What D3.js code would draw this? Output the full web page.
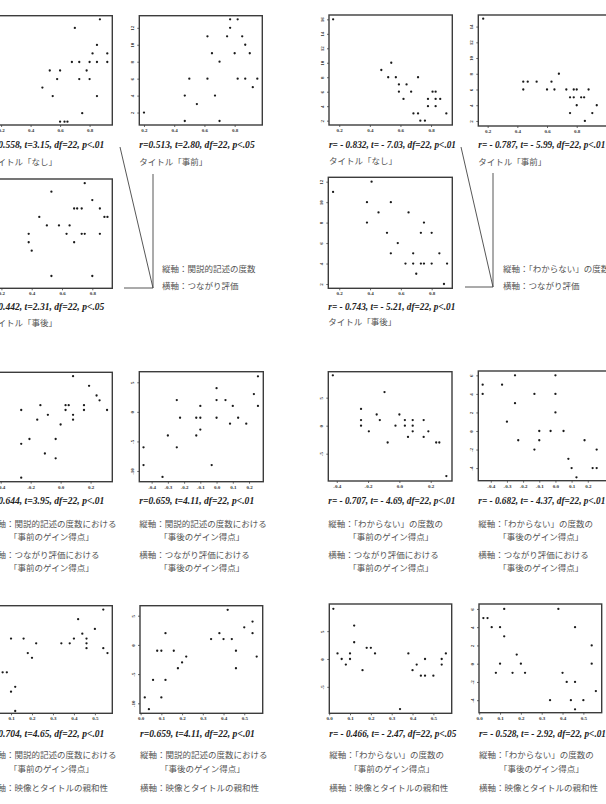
<!DOCTYPE html>
<html>
<head>
<meta charset="utf-8">
<script src="https://cdn.jsdelivr.net/npm/d3@7"></script>
<style>
  body { margin: 0; background: #fff; }
  .stat { font-family: "Liberation Serif", "Times New Roman", serif; font-weight: bold; font-style: italic; font-size: 9.6px; fill: #222; }
  .cap { font-family: "Noto Sans CJK JP", sans-serif; font-size: 8.5px; fill: #555; }
  .tk text { font-family: "Liberation Serif", serif; font-weight: bold; font-size: 5px; fill: #333; }
  .tk line { stroke: #444; stroke-width: 0.8; }
</style>
</head>
<body>
<div id="chart"></div>
<script>
// つながり評価 × 関説的記述の度数（タイトル なし / 事前 / 事後）
var kanNashi = [[0.87,13],[0.70,12],[0.85,10],[0.82,9],[0.92,9],[0.68,8],[0.73,8],[0.80,8],[0.85,8],[0.92,8],[0.53,7],[0.60,7],[0.78,7],[0.58,6],[0.73,6],[0.80,6],[0.48,5],[0.55,4],[0.85,4],[0.75,2],[0.60,1],[0.63,1],[0.65,1]];
var kanJizen = [[0.77,13],[0.82,13],[0.77,12],[0.62,11],[0.75,11],[0.85,11],[0.87,10],[0.65,9],[0.80,9],[0.90,9],[0.70,8],[0.50,6],[0.62,6],[0.82,6],[0.87,6],[0.95,6],[0.92,5],[0.47,4],[0.67,4],[0.55,3],[0.20,2],[0.47,1],[0.70,1]];
var kanJigo = [[0.75,12],[0.53,11],[0.80,10],[0.68,9],[0.70,9],[0.73,9],[0.85,9],[0.45,8],[0.88,8],[0.90,8],[0.50,7],[0.58,7],[0.65,7],[0.63,6],[0.73,6],[0.75,6],[0.85,6],[0.38,6],[0.38,5],[0.68,5],[0.40,4],[0.53,1],[0.80,1]];
// つながり評価 × 「わからない」の度数
var wakaNashi = [[0.16,16],[0.54,10],[0.475,9],[0.52,8],[0.57,8],[0.715,8],[0.59,7],[0.64,7],[0.59,6],[0.67,6],[0.81,6],[0.83,6],[0.62,5],[0.78,5],[0.83,5],[0.86,5],[0.78,4],[0.83,4],[0.685,3],[0.715,3],[0.90,3],[0.73,2],[0.76,2]];
var wakaJizen = [[0.17,15],[0.68,8],[0.44,7],[0.47,7],[0.53,7],[0.63,7],[0.44,6],[0.60,6],[0.65,6],[0.73,6],[0.78,6],[0.80,6],[0.88,6],[0.755,5],[0.78,5],[0.83,5],[0.85,5],[0.80,4],[0.935,4],[0.755,3],[0.905,3],[0.855,2]];
var wakaJigo = [[0.41,12],[0.16,11],[0.38,10],[0.535,10],[0.455,9],[0.65,9],[0.38,8],[0.75,8],[0.51,7],[0.73,7],[0.80,7],[0.58,6],[0.535,5],[0.68,5],[0.85,5],[0.63,4],[0.68,4],[0.73,4],[0.75,4],[0.80,4],[0.90,4],[0.70,3],[0.88,2]];
// ゲイン得点どうし
var gainKanPre = [[0.083,10],[0.19,8],[0.24,6],[0.26,5],[-0.135,4],[0.033,4],[0.054,4],[0.156,4],[-0.263,3],[0.033,3],[0.156,3],[0.31,3],[-0.085,2],[0.083,2],[-0.156,1],[0.083,1],[0,0],[-0.208,-3],[-0.033,-3],[-0.263,-4],[-0.105,-6],[-0.033,-7],[-0.263,-11]];
var gainKanPost = [[0.255,6],[0,4],[0.23,3],[-0.245,2],[0,2],[0.055,2],[-0.1,1],[0.1,1],[0.255,1],[-0.225,-1],[-0.125,-1],[-0.1,-1],[0,-1],[0.133,-1],[0.083,-2],[0.183,-2],[-0.1,-3],[-0.3,-4],[-0.125,-4],[-0.45,-6],[-0.245,-6],[-0.45,-9],[-0.03,-9],[-0.333,-11]];
var gainWakaPre = [[-0.425,9],[-0.095,6],[-0.245,3],[-0.145,2],[0,2],[-0.245,1],[-0.125,1],[0.035,1],[0.085,1],[0.155,1],[-0.245,0],[-0.025,0],[0.035,0],[0.085,0],[-0.195,-1],[0.085,-1],[0.185,-1],[0.055,-2],[0.155,-2],[-0.075,-3],[0.235,-3],[0.255,-3],[0.3,-9]];
var gainWakaPost = [[-0.25,6],[0,6],[-0.45,5],[-0.33,5],[-0.45,4],[-0.13,4],[0,4],[-0.25,3],[0,2],[-0.3,1],[-0.1,0],[-0.03,0],[0.05,0],[-0.23,-1],[-0.1,-1],[0.18,-1],[-0.13,-2],[0.255,-2],[0.08,-3],[0.1,-4],[0.23,-4],[0.255,-4],[0.13,-5]];
// 映像とタイトルの親和性 × ゲイン得点
var affKanPre = [[0.54,10],[0.42,8],[0.5,6],[0.44,5],[0.1,4],[0.16,4],[0.46,4],[0.4,4],[0.22,3],[0.34,3],[0.38,3],[0.46,3],[0.46,2],[0.54,2],[0.18,1],[0.56,1],[0.2,0],[0.06,-3],[0.08,-3],[0.12,-6],[0.1,-7],[0.12,-11]];
var affKanPost = [[0.42,6],[0.54,4],[0.5,3],[0.12,2],[0.38,2],[0.54,2],[0.34,1],[0.4,1],[0.44,1],[0.08,-1],[0.1,-1],[0.16,-1],[0.46,-1],[0.22,-2],[0.56,-2],[0.2,-3],[0.18,-4],[0.46,-4],[0.06,-6],[0.12,-6],[0.02,-9],[0.1,-9],[0.04,-11]];
var affWakaPre = [[0.02,9],[0.12,6],[0.12,3],[0.18,2],[0.2,2],[0.04,1],[0.1,1],[0.22,1],[0.38,1],[0.56,1],[0.06,0],[0.1,0],[0.46,0],[0.54,0],[0.08,-1],[0.42,-1],[0.54,-1],[0.16,-2],[0.4,-2],[0.44,-3],[0.46,-3],[0.5,-3],[0.34,-9]];
var affWakaPost = [[0.12,6],[0.38,6],[0.02,5],[0.04,5],[0.06,4],[0.1,4],[0.46,4],[0.12,3],[0.54,2],[0.18,1],[0.1,0],[0.2,0],[0.54,0],[0.08,-1],[0.16,-1],[0.22,-1],[0.4,-1],[0.42,-2],[0.46,-2],[0.56,-3],[0.34,-4],[0.44,-4],[0.5,-4],[0.46,-5]];

var ticks01 = [0.2, 0.4, 0.6, 0.8],
    ticksGain2 = [-0.4, -0.2, 0, 0.2],
    ticksGain1 = [-0.4, -0.3, -0.2, -0.1, 0, 0.1, 0.2],
    ticksAff = [0, 0.1, 0.2, 0.3, 0.4, 0.5];

var statTexts = {
  a: "r=0.558, t=3.15, df=22, p<.01", b: "r=0.513, t=2.80, df=22, p<.05",
  c: "r= - 0.832, t= - 7.03, df=22, p<.01", d: "r= - 0.787, t= - 5.99, df=22, p<.01",
  e: "r=0.442, t=2.31, df=22, p<.05", f: "r= - 0.743, t= - 5.21, df=22, p<.01",
  g: "r=0.644, t=3.95, df=22, p<.01", h: "r=0.659, t=4.11, df=22, p<.01",
  i: "r= - 0.707, t= - 4.69, df=22, p<.01", j: "r= - 0.682, t= - 4.37, df=22, p<.01",
  k: "r=0.704, t=4.65, df=22, p<.01", l: "r=0.659, t=4.11, df=22, p<.01",
  m: "r= - 0.466, t= - 2.47, df=22, p<.05", n: "r= - 0.528, t= - 2.92, df=22, p<.01"
};

var kanPre = ["縦軸：関説的記述の度数における", "「事前のゲイン得点」"],
    kanPost = ["縦軸：関説的記述の度数における", "「事後のゲイン得点」"],
    wakaPre = ["縦軸：「わからない」の度数の", "「事前のゲイン得点」"],
    wakaPost = ["縦軸：「わからない」の度数の", "「事後のゲイン得点」"],
    horPre = ["横軸：つながり評価における", "「事前のゲイン得点」"],
    horPost = ["横軸：つながり評価における", "「事後のゲイン得点」"],
    horAff = "横軸：映像とタイトルの親和性";

var W = 606, H = 804;
var svg = d3.select("#chart").append("svg")
    .attr("width", W).attr("height", H)
    .style("display", "block");
svg.append("rect").attr("width", W).attr("height", H).attr("fill", "#fff");

var fmt = d3.format(".1f");
var IND = 20; // indent of the bracket lines

// row layout: caption baselines
var row1 = [148, 165], row2 = [310, 326], row3 = [504, 526.5, 540, 557.5, 571], row4 = [737, 758, 772, 791];

function caps3(v, h) {
  return [[v[0], 0, row3[1]], [v[1], IND, row3[2]], [h[0], 0, row3[3]], [h[1], IND, row3[4]]];
}
function caps4(v) {
  return [[v[0], 0, row4[1]], [v[1], IND, row4[2]], [horAff, 0, row4[3]]];
}

var panels = [
  {data: kanNashi, box: [-11, 15.7, 112.3, 125], xd: [0.118, 0.954], yd: [0.61, 13.43], xt: ticks01, yt: [2,4,6,8,10,12],
   stat: [statTexts.a, row1[0]], caps: [["タイトル「なし」", 0, row1[1]]]},
  {data: kanJizen, box: [139.3, 15.7, 262.3, 125], xd: [0.169, 0.983], yd: [0.53, 13.43], xt: ticks01, yt: [2,4,6,8,10,12],
   stat: [statTexts.b, row1[0]], caps: [["タイトル「事前」", 0, row1[1]]]},
  {data: wakaNashi, box: [329, 15, 452.3, 125], xd: [0.133, 0.939], yd: [1.4, 16.6], xt: ticks01, yt: [2,4,6,8,10,12,14,16],
   stat: [statTexts.c, row1[0]], caps: [["タイトル「なし」", 0, row1[1] - 1]]},
  {data: wakaJizen, box: [478.3, 15, 606.7, 126], xd: [0.137, 1.002], yd: [1.36, 15.47], xt: ticks01, yt: [2,4,6,8,10,12,14],
   stat: [statTexts.d, row1[0]], caps: [["タイトル「事前」", 0, row1[1]]]},
  {data: kanJigo, box: [-11, 179, 112.3, 288.3], xd: [0.118, 0.932], yd: [-0.46, 12.5], xt: ticks01, yt: [2,4,6,8,10,12],
   stat: [statTexts.e, row2[0]], caps: [["タイトル「事後」", 0, row2[1]]]},
  {data: wakaJigo, box: [328.3, 177.3, 452.3, 288.3], xd: [0.129, 0.934], yd: [1.58, 12.43], xt: ticks01, yt: [2,4,6,8,10,12],
   stat: [statTexts.f, row2[0]], caps: [["タイトル「事後」", 0, row2[1] - 1]]},
  {data: gainKanPre, box: [-11, 372.3, 112.3, 481.7], xd: [-0.478, 0.345], yd: [-11.83, 10.8], xt: ticksGain2, yt: [],
   stat: [statTexts.g, row3[0]], caps: caps3(kanPre, horPre)},
  {data: gainKanPost, box: [139.3, 371.7, 263.3, 481.7], xd: [-0.476, 0.288], yd: [-11.81, 6.79], xt: ticksGain1, yt: [5,0,-5,-10],
   stat: [statTexts.h, row3[0]], caps: caps3(kanPost, horPost)},
  {data: gainWakaPre, box: [328.3, 371.7, 452, 481], xd: [-0.454, 0.336], yd: [-9.88, 9.64], xt: ticksGain2, yt: [5,0,-5],
   stat: [statTexts.i, row3[0]], caps: caps3(wakaPre, horPre)},
  {data: gainWakaPost, box: [478.3, 371, 606.7, 480.7], xd: [-0.477, 0.317], yd: [-5.36, 6.47], xt: ticksGain1, yt: [6,4,2,0,-2,-4],
   stat: [statTexts.j, row3[0]], caps: caps3(wakaPost, horPost)},
  {data: affKanPre, box: [-11, 605.7, 112.3, 713.3], xd: [-0.005, 0.583], yd: [-11.48, 10.8], xt: ticksAff, yt: [],
   stat: [statTexts.k, row4[0]], caps: caps4(kanPre)},
  {data: affKanPost, box: [140, 605.7, 262.7, 713.3], xd: [-0.003, 0.589], yd: [-11.71, 6.71], xt: ticksAff, yt: [5,0,-5,-10],
   stat: [statTexts.l, row4[0]], caps: caps4(kanPost)},
  {data: affWakaPre, box: [329.3, 604, 451.7, 713.3], xd: [0.0006, 0.588], yd: [-9.75, 9.87], xt: ticksAff, yt: [5,0,-5],
   stat: [statTexts.m, row4[0]], caps: caps4(wakaPre)},
  {data: affWakaPost, box: [479, 604, 601.7, 712.7], xd: [-0.001, 0.588], yd: [-5.37, 6.54], xt: ticksAff, yt: [6,4,2,0,-2,-4],
   stat: [statTexts.n, row4[0]], caps: caps4(wakaPost)}
];

function drawPanel(p) {
  var x0 = p.box[0], y0 = p.box[1], x1 = p.box[2], y1 = p.box[3];
  var x = d3.scaleLinear().domain(p.xd).range([x0, x1]);
  var y = d3.scaleLinear().domain(p.yd).range([y1, y0]);
  var g = svg.append("g");

  var xa = g.append("g").attr("class", "tk")
      .attr("transform", "translate(0," + y1 + ")")
      .call(d3.axisBottom(x).tickValues(p.xt).tickSize(2).tickPadding(1.5)
            .tickFormat((d) => fmt(d).replace("−", "-")));
  xa.select(".domain").remove();

  if (p.yt.length) {
    var ya = g.append("g").attr("class", "tk")
        .attr("transform", "translate(" + x0 + ",0)")
        .call(d3.axisLeft(y).tickValues(p.yt).tickSize(2)
              .tickFormat((d) => String(d)));
    ya.select(".domain").remove();
    ya.selectAll("text")
      .attr("x", null).attr("dy", null)
      .attr("text-anchor", "middle")
      .attr("transform", "translate(-5,0) rotate(-90)");
  }

  g.append("g").selectAll("circle")
    .data(p.data)
    .enter().append("circle")
    .attr("cx", (d) => x(d[0]))
    .attr("cy", (d) => y(d[1]))
    .attr("r", 1.15)
    .attr("fill", "#1a1a1a");

  g.append("rect")
    .attr("x", x0).attr("y", y0)
    .attr("width", x1 - x0).attr("height", y1 - y0)
    .attr("fill", "none")
    .attr("stroke", "#3c3c3c")
    .attr("stroke-width", 1.4);

  var st = g.append("text").attr("class", "stat")
    .attr("x", x0).attr("y", p.stat[1])
    .text(p.stat[0]);
  // negative r lines are set tighter in the source
  if (p.stat[0].indexOf(" - ") >= 0) {
    st.attr("textLength", 127).attr("lengthAdjust", "spacingAndGlyphs");
  }

  g.selectAll("text.cap")
    .data(p.caps)
    .enter().append("text")
    .attr("class", "cap")
    .attr("x", (d) => x0 + d[1])
    .attr("y", (d) => d[2])
    .text((d) => d[0]);
}

panels.forEach(drawPanel);

// callouts for the axis note of the top two rows
var callouts = [
  {pts: [[120, 147], [153, 288], [153, 174]], base: [[124, 288], [153, 288]], tx: 162,
   lines: ["縦軸：関説的記述の度数", "横軸：つながり評価"]},
  {pts: [[461, 147], [493, 287], [493, 173]], base: [[465, 287], [493, 287]], tx: 503,
   lines: ["縦軸：「わからない」の度数", "横軸：つながり評価"]}
];
var line = d3.line();
callouts.forEach((c) => {
  svg.append("path").attr("d", line(c.pts))
    .attr("fill", "none").attr("stroke", "#444").attr("stroke-width", 0.9);
  svg.append("path").attr("d", line(c.base))
    .attr("fill", "none").attr("stroke", "#444").attr("stroke-width", 0.9);
  svg.selectAll(null).data(c.lines).enter().append("text")
    .attr("class", "cap")
    .attr("x", c.tx)
    .attr("y", (d, i) => 272 + i * 17)
    .text((d) => d);
});
</script>
</body>
</html>
